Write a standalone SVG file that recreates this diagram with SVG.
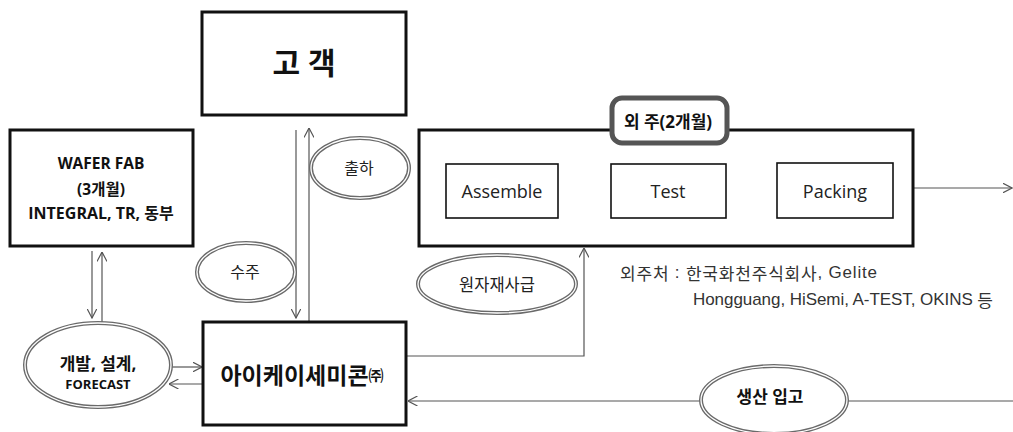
<svg xmlns="http://www.w3.org/2000/svg" width="1013" height="432" viewBox="0 0 1013 432">
<defs>
<style>
.box{fill:#fff;stroke:#111;stroke-width:3}
.sub{fill:#fff;stroke:#111;stroke-width:1.6}
.lbl{fill:#fff;stroke:#555;stroke-width:5}
.ell{fill:#fff;stroke:#6a6a6a;stroke-width:4}
.ell2{fill:none;stroke:#fff;stroke-width:1.3}
.ln{fill:none;stroke:#555;stroke-width:1.2}
.t{font-family:"Open Sans","Noto Sans CJK KR",sans-serif;fill:#222;text-anchor:middle;dominant-baseline:central}
.n{font-family:"Liberation Sans","Noto Sans CJK KR",sans-serif;fill:#333;font-size:17px;dominant-baseline:central}
.k{font-family:"Noto Sans CJK KR",sans-serif;font-size:17px}
.b{font-weight:bold;fill:#111}
</style>
<marker id="ah" viewBox="0 0 10 10" refX="9.5" refY="5" markerWidth="10" markerHeight="10" markerUnits="userSpaceOnUse" orient="auto">
<path d="M0,0 L9.5,5 L0,10" fill="none" stroke="#555" stroke-width="1.2"/>
</marker>
</defs>

<g id="connectors">
<line class="ln" x1="296" y1="130" x2="296" y2="318" marker-end="url(#ah)"/>
<line class="ln" x1="309" y1="321" x2="309" y2="128" marker-end="url(#ah)"/>
<line class="ln" x1="92" y1="251" x2="92" y2="318" marker-end="url(#ah)"/>
<line class="ln" x1="102" y1="323" x2="102" y2="252" marker-end="url(#ah)"/>
<line class="ln" x1="172" y1="367" x2="202" y2="367" marker-end="url(#ah)"/>
<line class="ln" x1="202" y1="384" x2="169" y2="384" marker-end="url(#ah)"/>
<polyline class="ln" points="406,356 584,356 584,248" marker-end="url(#ah)"/>
<line class="ln" x1="913" y1="188" x2="1012" y2="188" marker-end="url(#ah)"/>
<line class="ln" x1="1013" y1="401" x2="408" y2="401" marker-end="url(#ah)"/>
</g>

<g id="customer">
<rect class="box" x="202" y="12" width="204" height="103"/>
<text class="t b" x="304" y="62" font-size="30">고 객</text>
</g>

<g id="wafer-fab">
<rect class="box" x="10" y="130" width="183" height="116"/>
<text class="t b" x="101" y="163" font-size="15.5">WAFER FAB</text>
<text class="t b" x="101" y="189" font-size="15.5">(3개월)</text>
<text class="t b" x="101" y="213" font-size="16">INTEGRAL, TR, 동부</text>
</g>

<g id="outsourcing">
<rect class="box" x="419" y="130" width="494" height="116"/>
<rect class="lbl" x="612" y="98" width="115" height="45" rx="10"/>
<text class="t b" x="668" y="121" font-size="17">외 주(2개월)</text>
</g>

<g id="assemble">
<rect class="sub" x="446" y="164" width="112" height="54"/>
<text class="t" x="502" y="191" font-size="18">Assemble</text>
</g>

<g id="test">
<rect class="sub" x="611" y="164" width="115" height="54"/>
<text class="t" x="668" y="191" font-size="18">Test</text>
</g>

<g id="packing">
<rect class="sub" x="777" y="163" width="116" height="55"/>
<text class="t" x="835" y="191" font-size="18">Packing</text>
</g>

<g id="ikseimicon">
<rect class="box" x="203" y="322" width="203" height="103"/>
<text class="t b" x="302" y="375" font-size="23">아이케이세미콘<tspan font-size="15">㈜</tspan></text>
</g>

<g id="dev-design">
<ellipse class="ell" cx="98" cy="365" rx="73" ry="42"/>
<ellipse class="ell2" cx="98" cy="365" rx="73" ry="42"/>
<text class="t b" x="98" y="363" font-size="17">개발, 설계,</text>
<text class="t b" x="98" y="384" font-size="13">FORECAST</text>
</g>

<g id="shipping">
<ellipse class="ell" cx="360" cy="168" rx="49" ry="30"/>
<ellipse class="ell2" cx="360" cy="168" rx="49" ry="30"/>
<text class="t" x="359" y="168" font-size="16">출하</text>
</g>

<g id="order">
<ellipse class="ell" cx="246" cy="272" rx="49" ry="29"/>
<ellipse class="ell2" cx="246" cy="272" rx="49" ry="29"/>
<text class="t" x="245" y="272" font-size="16">수주</text>
</g>

<g id="material">
<ellipse class="ell" cx="497" cy="284" rx="79" ry="29"/>
<ellipse class="ell2" cx="497" cy="284" rx="79" ry="29"/>
<text class="t" x="497" y="284" font-size="16.5">원자재사급</text>
</g>

<g id="production-in">
<ellipse class="ell" cx="774" cy="400" rx="73" ry="34"/>
<ellipse class="ell2" cx="774" cy="400" rx="73" ry="34"/>
<text class="t b" x="770" y="396" font-size="17">생산 입고</text>
</g>

<g id="note">
<text class="n" x="620" y="272" textLength="257" lengthAdjust="spacing"><tspan class="k">외주처</tspan> : <tspan class="k">한국화천주식회사</tspan>, Gelite</text>
<text class="n" x="693" y="299" textLength="300" lengthAdjust="spacing">Hongguang, HiSemi, A-TEST, OKINS <tspan class="k">등</tspan></text>
</g>
</svg>
